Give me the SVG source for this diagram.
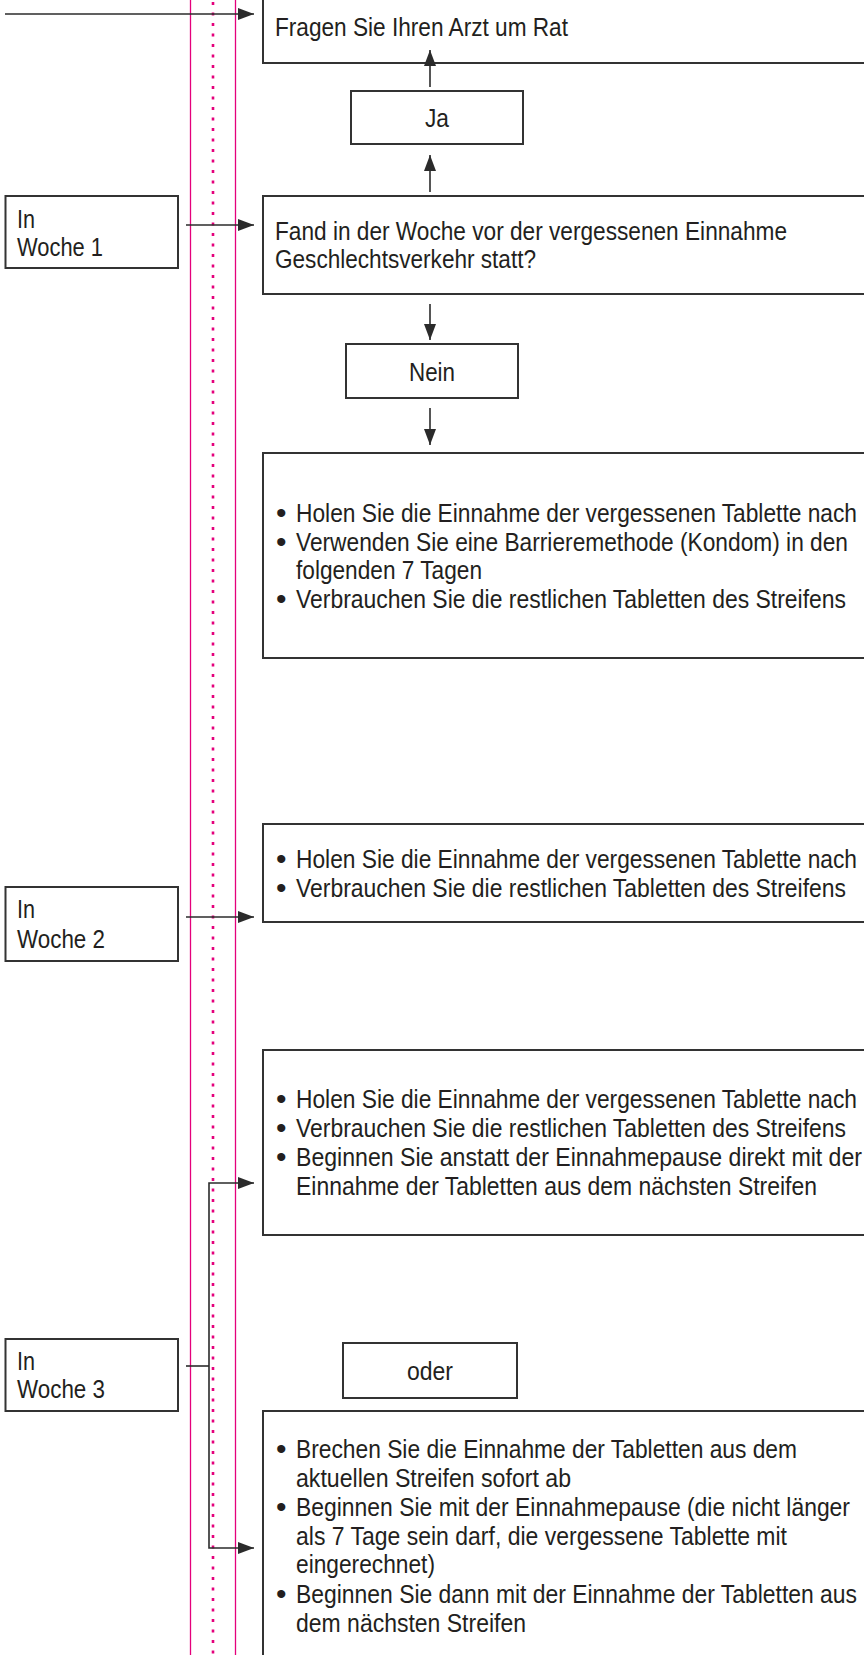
<svg xmlns="http://www.w3.org/2000/svg" width="864" height="1655" viewBox="0 0 864 1655">
<style>
.box{fill:#fff;stroke:#333;stroke-width:2}
.t{font-family:"Liberation Sans Narrow","Liberation Sans",Arial,sans-serif;font-size:25px;fill:#231f20}
.b{font-family:"Liberation Sans",Arial,sans-serif;font-size:30px;fill:#231f20}
.c{fill:none;stroke:#2b2b2b;stroke-width:1.6}
.pk{stroke:#e4007c;stroke-width:1.3}
.pd{stroke:#e4007c;stroke-width:2.6;stroke-dasharray:3 7.5}
</style>
<defs>
<marker id="ah" markerUnits="userSpaceOnUse" markerWidth="16" markerHeight="12" refX="16" refY="6" orient="auto">
<path d="M0,0 L16,6 L0,12 z" fill="#2b2b2b"/>
</marker>
</defs>
<rect width="864" height="1655" fill="#fff"/>
<g id="guides">
<line class="pk" x1="190.5" y1="0" x2="190.5" y2="1655"/>
<line class="pk" x1="235.5" y1="0" x2="235.5" y2="1655"/>
<line class="pd" x1="213" y1="2" x2="213" y2="1655"/>
</g>
<g id="n-fragen">
<rect class="box" x="263" y="-10" width="620" height="73"/>
<text class="t" x="275" y="36" textLength="293" lengthAdjust="spacingAndGlyphs">Fragen Sie Ihren Arzt um Rat</text>
</g>
<g id="n-ja">
<rect class="box" x="351" y="91" width="172" height="53"/>
<text class="t" x="437" y="127" text-anchor="middle" textLength="24" lengthAdjust="spacingAndGlyphs">Ja</text>
</g>
<g id="n-fand">
<rect class="box" x="263" y="196" width="620" height="98"/>
<text class="t" x="275" y="240" textLength="512" lengthAdjust="spacingAndGlyphs">Fand in der Woche vor der vergessenen Einnahme</text>
<text class="t" x="275" y="268" textLength="261" lengthAdjust="spacingAndGlyphs">Geschlechtsverkehr statt?</text>
</g>
<g id="n-woche1">
<rect class="box" x="5.5" y="196" width="172.5" height="72"/>
<text class="t" x="17" y="228" textLength="18" lengthAdjust="spacingAndGlyphs">In</text>
<text class="t" x="17" y="256" textLength="86" lengthAdjust="spacingAndGlyphs">Woche 1</text>
</g>
<g id="n-nein">
<rect class="box" x="346" y="344" width="172" height="54"/>
<text class="t" x="432" y="381" text-anchor="middle" textLength="46" lengthAdjust="spacingAndGlyphs">Nein</text>
</g>
<g id="n-w1-nein">
<rect class="box" x="263" y="453" width="620" height="205"/>
<text class="b" x="276" y="523">•</text>
<text class="t" x="296" y="522" textLength="561" lengthAdjust="spacingAndGlyphs">Holen Sie die Einnahme der vergessenen Tablette nach</text>
<text class="b" x="276" y="552">•</text>
<text class="t" x="296" y="551" textLength="552" lengthAdjust="spacingAndGlyphs">Verwenden Sie eine Barrieremethode (Kondom) in den</text>
<text class="t" x="296" y="579" textLength="186" lengthAdjust="spacingAndGlyphs">folgenden 7 Tagen</text>
<text class="b" x="276" y="609">•</text>
<text class="t" x="296" y="608" textLength="550" lengthAdjust="spacingAndGlyphs">Verbrauchen Sie die restlichen Tabletten des Streifens</text>
</g>
<g id="n-woche2">
<rect class="box" x="5.5" y="887" width="172.5" height="74"/>
<text class="t" x="17" y="918" textLength="18" lengthAdjust="spacingAndGlyphs">In</text>
<text class="t" x="17" y="948" textLength="88" lengthAdjust="spacingAndGlyphs">Woche 2</text>
</g>
<g id="n-w2">
<rect class="box" x="263" y="824" width="620" height="98"/>
<text class="b" x="276" y="869">•</text>
<text class="t" x="296" y="868" textLength="561" lengthAdjust="spacingAndGlyphs">Holen Sie die Einnahme der vergessenen Tablette nach</text>
<text class="b" x="276" y="898">•</text>
<text class="t" x="296" y="897" textLength="550" lengthAdjust="spacingAndGlyphs">Verbrauchen Sie die restlichen Tabletten des Streifens</text>
</g>
<g id="n-w3a">
<rect class="box" x="263" y="1050" width="620" height="185"/>
<text class="b" x="276" y="1109">•</text>
<text class="t" x="296" y="1108" textLength="561" lengthAdjust="spacingAndGlyphs">Holen Sie die Einnahme der vergessenen Tablette nach</text>
<text class="b" x="276" y="1138">•</text>
<text class="t" x="296" y="1137" textLength="550" lengthAdjust="spacingAndGlyphs">Verbrauchen Sie die restlichen Tabletten des Streifens</text>
<text class="b" x="276" y="1167">•</text>
<text class="t" x="296" y="1166" textLength="566" lengthAdjust="spacingAndGlyphs">Beginnen Sie anstatt der Einnahmepause direkt mit der</text>
<text class="t" x="296" y="1195" textLength="521" lengthAdjust="spacingAndGlyphs">Einnahme der Tabletten aus dem nächsten Streifen</text>
</g>
<g id="n-woche3">
<rect class="box" x="5.5" y="1339" width="172.5" height="72"/>
<text class="t" x="17" y="1370" textLength="18" lengthAdjust="spacingAndGlyphs">In</text>
<text class="t" x="17" y="1398" textLength="88" lengthAdjust="spacingAndGlyphs">Woche 3</text>
</g>
<g id="n-oder">
<rect class="box" x="343" y="1343" width="174" height="55"/>
<text class="t" x="430" y="1380" text-anchor="middle" textLength="46" lengthAdjust="spacingAndGlyphs">oder</text>
</g>
<g id="n-w3b">
<rect class="box" x="263" y="1411" width="620" height="270"/>
<text class="b" x="276" y="1459">•</text>
<text class="t" x="296" y="1458" textLength="501" lengthAdjust="spacingAndGlyphs">Brechen Sie die Einnahme der Tabletten aus dem</text>
<text class="t" x="296" y="1487" textLength="275" lengthAdjust="spacingAndGlyphs">aktuellen Streifen sofort ab</text>
<text class="b" x="276" y="1517">•</text>
<text class="t" x="296" y="1516" textLength="554" lengthAdjust="spacingAndGlyphs">Beginnen Sie mit der Einnahmepause (die nicht länger</text>
<text class="t" x="296" y="1545" textLength="491" lengthAdjust="spacingAndGlyphs">als 7 Tage sein darf, die vergessene Tablette mit</text>
<text class="t" x="296" y="1573" textLength="139" lengthAdjust="spacingAndGlyphs">eingerechnet)</text>
<text class="b" x="276" y="1604">•</text>
<text class="t" x="296" y="1603" textLength="561" lengthAdjust="spacingAndGlyphs">Beginnen Sie dann mit der Einnahme der Tabletten aus</text>
<text class="t" x="296" y="1632" textLength="230" lengthAdjust="spacingAndGlyphs">dem nächsten Streifen</text>
</g>
<g id="connectors">
<line class="c" x1="5" y1="14" x2="254" y2="14" marker-end="url(#ah)"/>
<line class="c" x1="430" y1="87" x2="430" y2="50" marker-end="url(#ah)"/>
<line class="c" x1="430" y1="192" x2="430" y2="155" marker-end="url(#ah)"/>
<line class="c" x1="186" y1="225" x2="254" y2="225" marker-end="url(#ah)"/>
<line class="c" x1="430" y1="304" x2="430" y2="340" marker-end="url(#ah)"/>
<line class="c" x1="430" y1="408" x2="430" y2="445" marker-end="url(#ah)"/>
<line class="c" x1="186" y1="917" x2="254" y2="917" marker-end="url(#ah)"/>
<polyline class="c" points="186,1366 209,1366"/>
<polyline class="c" points="209,1366 209,1183 254,1183" marker-end="url(#ah)"/>
<polyline class="c" points="209,1366 209,1548 254,1548" marker-end="url(#ah)"/>
</g>
</svg>
